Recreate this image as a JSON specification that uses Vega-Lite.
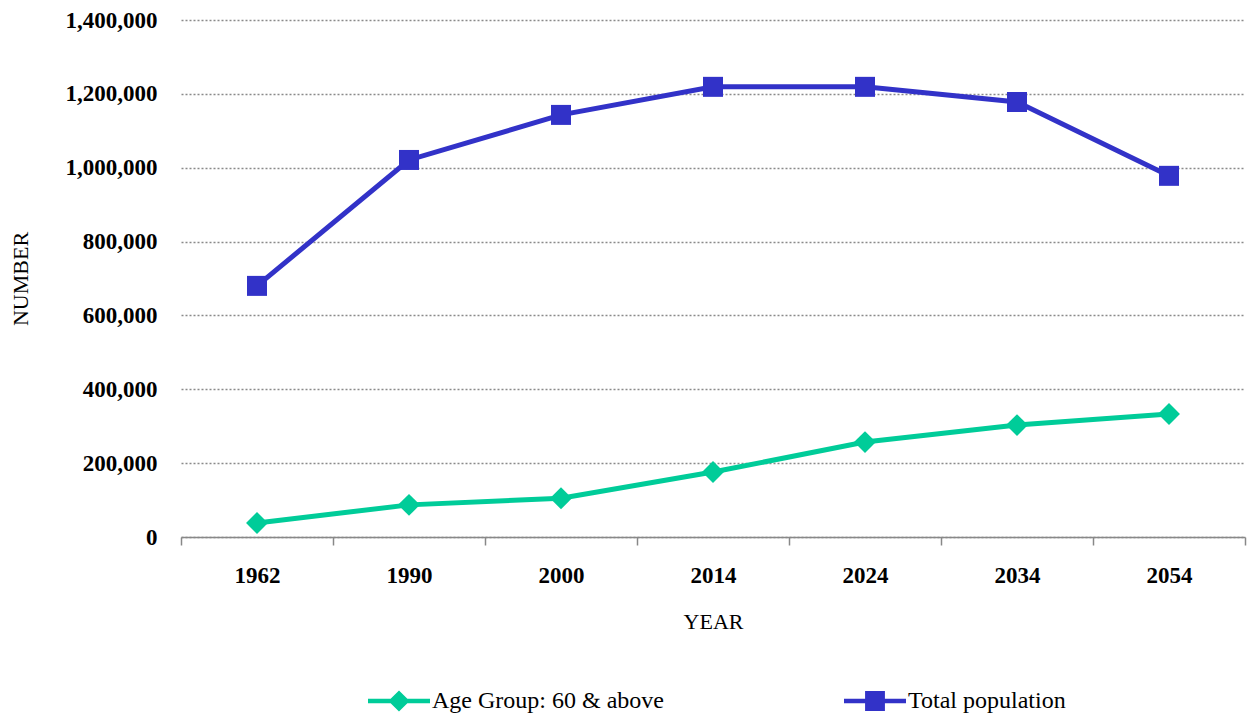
{
  "$schema": "https://vega.github.io/schema/vega-lite/v6.json",
  "width": 1064,
  "height": 517,
  "autosize": "none",
  "padding": {"left": 181, "top": 20, "right": 8, "bottom": 182},
  "background": "white",
  "config": {
    "view": {"stroke": null},
    "font": "Liberation Serif"
  },
  "data": {
    "values": [
      {"year": "1962", "series": "Age Group: 60 & above", "value": 38000},
      {"year": "1990", "series": "Age Group: 60 & above", "value": 87000},
      {"year": "2000", "series": "Age Group: 60 & above", "value": 105000},
      {"year": "2014", "series": "Age Group: 60 & above", "value": 176000},
      {"year": "2024", "series": "Age Group: 60 & above", "value": 257000},
      {"year": "2034", "series": "Age Group: 60 & above", "value": 303000},
      {"year": "2054", "series": "Age Group: 60 & above", "value": 333000},
      {"year": "1962", "series": "Total population", "value": 680000},
      {"year": "1990", "series": "Total population", "value": 1021000},
      {"year": "2000", "series": "Total population", "value": 1143000},
      {"year": "2014", "series": "Total population", "value": 1219000},
      {"year": "2024", "series": "Total population", "value": 1219000},
      {"year": "2034", "series": "Total population", "value": 1178000},
      {"year": "2054", "series": "Total population", "value": 978000}
    ]
  },
  "encoding": {
    "x": {
      "field": "year",
      "type": "nominal",
      "scale": {"type": "band", "paddingInner": 0, "paddingOuter": 0},
      "axis": {
        "title": "YEAR",
        "labelAngle": 0,
        "tickBand": "extent",
        "domainColor": "#888888",
        "domainWidth": 1.5,
        "tickColor": "#888888",
        "tickWidth": 1.5,
        "tickSize": 8,
        "labelFont": "Liberation Serif",
        "labelFontSize": 23,
        "labelFontWeight": "bold",
        "labelColor": "#000000",
        "labelPadding": 19,
        "titleFont": "Liberation Serif",
        "titleFontSize": 22,
        "titleFontWeight": "normal",
        "titleColor": "#000000",
        "titlePadding": 24,
        "grid": false
      }
    },
    "y": {
      "field": "value",
      "type": "quantitative",
      "scale": {"domain": [0, 1400000], "nice": false},
      "axis": {
        "title": "NUMBER",
        "values": [0, 200000, 400000, 600000, 800000, 1000000, 1200000, 1400000],
        "format": ",d",
        "domain": false,
        "ticks": false,
        "labelPadding": 24,
        "labelFont": "Liberation Serif",
        "labelFontSize": 23,
        "labelFontWeight": "bold",
        "labelColor": "#000000",
        "titleFont": "Liberation Serif",
        "titleFontSize": 22,
        "titleFontWeight": "normal",
        "titleColor": "#000000",
        "titlePadding": 33,
        "grid": true,
        "gridColor": "#8a8a8a",
        "gridDash": [2, 2],
        "gridWidth": 1.5
      }
    }
  },
  "layer": [
    {
      "mark": {"type": "line", "strokeWidth": 5},
      "encoding": {
        "color": {
          "field": "series",
          "type": "nominal",
          "scale": {"domain": ["Age Group: 60 & above", "Total population"], "range": ["#00CC99", "#3232C8"]},
          "legend": null
        }
      }
    },
    {
      "mark": {"type": "point", "filled": true, "opacity": 1, "strokeWidth": 0},
      "encoding": {
        "color": {
          "field": "series",
          "type": "nominal",
          "scale": {"domain": ["Age Group: 60 & above", "Total population"], "range": ["#00CC99", "#3232C8"]},
          "legend": null
        },
        "shape": {
          "field": "series",
          "type": "nominal",
          "scale": {"domain": ["Age Group: 60 & above", "Total population"], "range": ["diamond", "square"]},
          "legend": null
        },
        "size": {
          "field": "series",
          "type": "nominal",
          "scale": {"domain": ["Age Group: 60 & above", "Total population"], "range": [480, 400]},
          "legend": null
        }
      }
    },
    {
      "transform": [{"filter": "datum.value < 0"}],
      "mark": {"type": "point", "filled": true, "opacity": 1, "strokeWidth": 0},
      "encoding": {
        "color": {
          "field": "series",
          "type": "nominal",
          "title": null,
          "scale": {"domain": ["Age Group: 60 & above", "Total population"], "range": ["#00CC99", "#3232C8"]},
          "legend": {
            "orient": "none",
            "legendX": 187,
            "legendY": 650,
            "direction": "horizontal",
            "title": null,
            "symbolSize": 3844,
            "symbolStrokeWidth": 0,
            "labelFont": "Liberation Serif",
            "labelFontSize": 24,
            "labelColor": "#000000",
            "labelLimit": 0,
            "labelOffset": 2,
            "columnPadding": 180
          }
        },
        "shape": {
          "field": "series",
          "type": "nominal",
          "title": null,
          "scale": {
            "domain": ["Age Group: 60 & above", "Total population"],
            "range": [
              "M-1,-0.07L-0.27,-0.07L0,-0.34L0.27,-0.07L1,-0.07L1,0.07L0.27,0.07L0,0.34L-0.27,0.07L-1,0.07Z",
              "M-1,-0.07L-0.32,-0.07L-0.32,-0.32L0.32,-0.32L0.32,-0.07L1,-0.07L1,0.07L0.32,0.07L0.32,0.32L-0.32,0.32L-0.32,0.07L-1,0.07Z"
            ]
          }
        }
      }
    }
  ],
  "resolve": {"scale": {"color": "independent", "shape": "independent", "size": "independent"}}
}
